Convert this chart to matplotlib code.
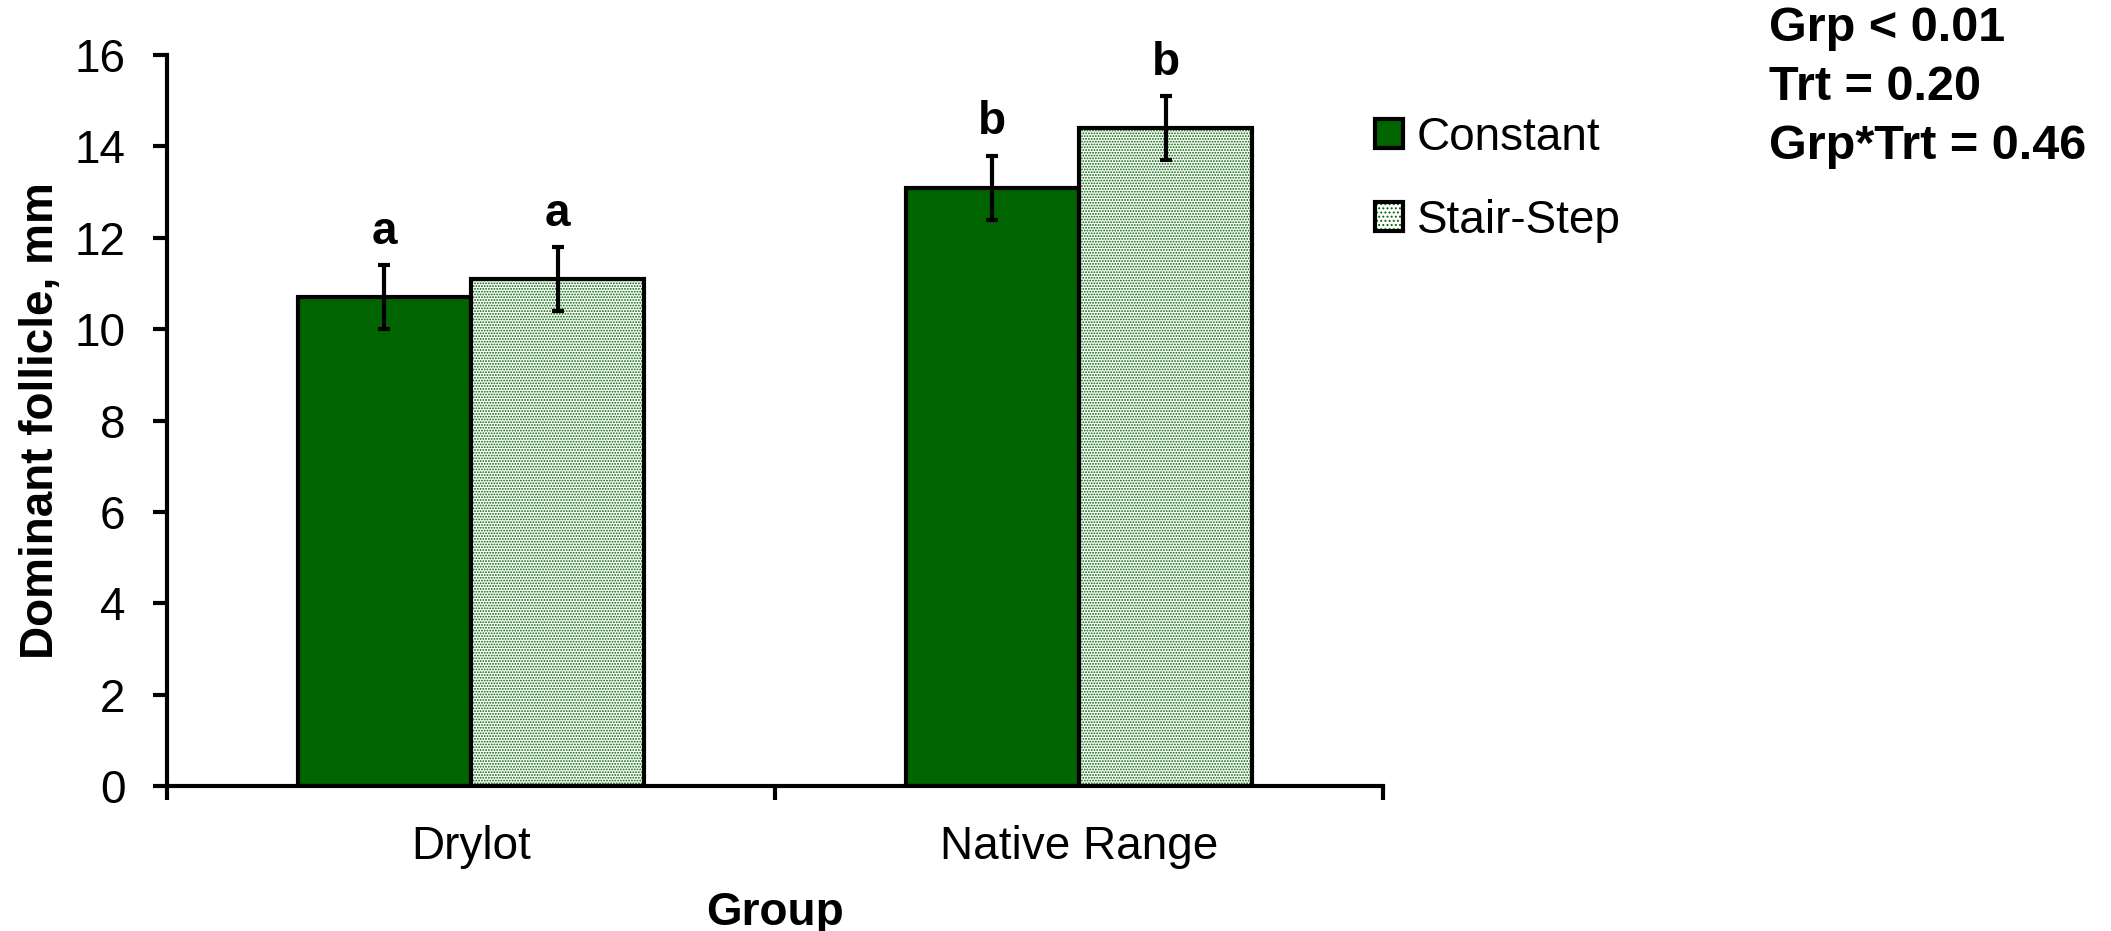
import matplotlib
matplotlib.use("Agg")
import matplotlib.pyplot as plt
from matplotlib.patches import Patch
from matplotlib.legend_handler import HandlerTuple
import numpy as np

plt.rcParams["font.family"] = ["Liberation Sans", "DejaVu Sans"]
plt.rcParams["hatch.linewidth"] = 0.9

groups = ["Drylot", "Native Range"]
treatments = ["Constant", "Stair-Step"]
means = {"Constant": [10.7, 13.1], "Stair-Step": [11.1, 14.4]}
sems = {"Constant": [0.7, 0.7], "Stair-Step": [0.7, 0.7]}
letters = {"Constant": ["a", "b"], "Stair-Step": ["a", "b"]}
stats_text = ["Grp < 0.01", "Trt = 0.20", "Grp*Trt = 0.46"]

green = "#006400"
fs = 33

fig = plt.figure(figsize=(21.11, 9.31), dpi=100)
ax = fig.add_axes([0.0791, 0.1557, 0.576, 0.7852])

x = np.arange(len(groups))
w = 0.285
offsets = {"Constant": -w / 2, "Stair-Step": w / 2}

for t in treatments:
    xs = x + offsets[t]
    if t == "Constant":
        ax.bar(xs, means[t], w, facecolor=green, edgecolor="black",
               linewidth=3, zorder=2)
    else:
        # dotted fill first (hatch takes the edge colour), outline on top
        ax.bar(xs, means[t], w, facecolor="white", edgecolor=green,
               hatch="......", linewidth=0, zorder=2)
        ax.bar(xs, means[t], w, facecolor="none", edgecolor="black",
               linewidth=3, zorder=2.5)
    ax.errorbar(xs, means[t], yerr=sems[t], fmt="none", ecolor="black",
                elinewidth=3, capsize=4.5, capthick=3, zorder=3)
    for xi, m, s, lab in zip(xs, means[t], sems[t], letters[t]):
        ax.annotate(lab, (xi, m + s), xytext=(0, 8), textcoords="offset points",
                    ha="center", va="bottom", fontsize=fs, fontweight="bold")

ax.set_xlim(-0.5, 1.5)
ax.set_ylim(0, 16)
ax.set_yticks(range(0, 17, 2))
ax.tick_params(axis="y", labelsize=fs, width=3, length=10, pad=20)

# category boundaries get the ticks, names sit between them
ax.set_xticks([-0.5, 0.5, 1.5])
ax.set_xticklabels([])
ax.tick_params(axis="x", which="major", width=3, length=10, direction="out")
ax.set_xticks(x, minor=True)
ax.set_xticklabels(groups, minor=True, fontsize=fs)
ax.tick_params(axis="x", which="minor", length=0, pad=28)

for side in ["top", "right"]:
    ax.spines[side].set_visible(False)
for side in ["left", "bottom"]:
    ax.spines[side].set_linewidth(3)

ax.set_xlabel("Group", fontsize=fs, fontweight="bold", labelpad=16)
ax.set_ylabel("Dominant follicle, mm", fontsize=fs, fontweight="bold", labelpad=8)

handles = [
    Patch(facecolor=green, edgecolor="black", linewidth=3),
    (Patch(facecolor="white", edgecolor=green, hatch="....", linewidth=0),
     Patch(facecolor="none", edgecolor="black", linewidth=3)),
]
fig.legend(handles=handles, labels=treatments, loc="upper left",
           bbox_to_anchor=(0.632, 0.92), frameon=False, fontsize=fs,
           handlelength=0.6, handleheight=0.6, handletextpad=0.3,
           labelspacing=0.85, handler_map={tuple: HandlerTuple(ndivide=1)})

fig.text(0.838, 0.994, "\n".join(stats_text), ha="left", va="top",
         fontsize=35, fontweight="bold", linespacing=1.41)

fig.savefig("out.png", dpi=100)
